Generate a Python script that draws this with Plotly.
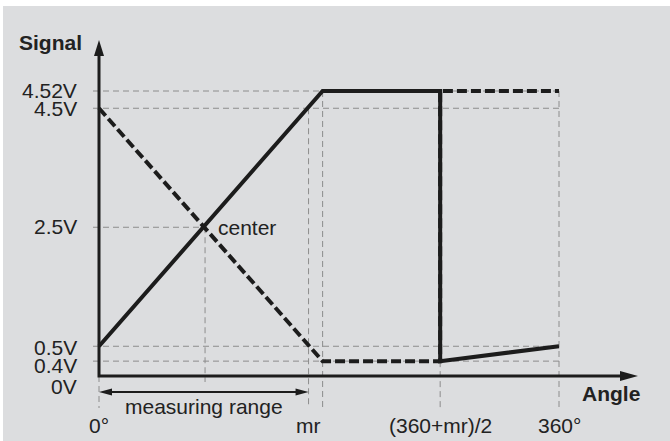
import plotly.graph_objects as go

# ---------------- data (schematic diagram) ----------------
angle_tick_labels = ["0°", "mr", "(360+mr)/2", "360°"]
angle_tick_values = [0, 164, 267, 360]          # drawn angle positions
center_angle = 83                               # where both outputs cross 2.5V
saturation_angle = 175                          # where outputs reach 4.52V / 0.4V

level_labels = ["0V", "0.4V", "0.5V", "2.5V", "4.5V", "4.52V"]
level_values = [0, 0.25, 0.5, 2.5, 4.5, 4.79]   # drawn (schematic) heights

out1_angle = [0, 175, 267, 267, 360]
out1_level = [0.5, 4.79, 4.79, 0.25, 0.5]
out2_angle = [0, 175, 267, 267, 360]
out2_level = [4.5, 0.25, 0.25, 4.79, 4.79]

# ---------------- layout helpers (pixel geometry) ----------------
W, H = 670, 441
X0, PXD = 99, 460 / 360      # pixel of 0°, pixels per degree
Y0, PXV = 376, 59.5          # pixel of 0V, pixels per volt(drawn)


def dx(px):   # pixel distance -> degrees
    return px / PXD


def dy(px):   # pixel distance -> drawn volts
    return px / PXV


def ax_x(px):  # absolute pixel -> degrees
    return (px - X0) / PXD


def ax_y(py):  # absolute pixel -> drawn volts
    return (Y0 - py) / PXV


BG = "#dcdddf"
INK = "#1c1c1c"
GUIDE = "#8c8c8c"
FONT = "Liberation Sans, Arial, sans-serif"
FS = 21

lv = dict(zip(level_labels, level_values))
mr = angle_tick_values[1]
jump = angle_tick_values[2]
full = angle_tick_values[3]

fig = go.Figure()

# thick signal lines
fig.add_trace(go.Scatter(x=out2_angle, y=out2_level, mode="lines",
                         line=dict(color=INK, width=4, dash="10px,4px"),
                         hoverinfo="skip", showlegend=False))
fig.add_trace(go.Scatter(x=out1_angle, y=out1_level, mode="lines",
                         line=dict(color=INK, width=4),
                         hoverinfo="skip", showlegend=False))

shapes = []
gl = dict(color=GUIDE, width=1, dash="6px,4px")
stub = -dx(6)
below = ax_y(408)

# horizontal guides
for name in ["0.4V", "0.5V", "4.5V", "4.52V"]:
    shapes.append(dict(type="line", xref="x", yref="y", x0=stub, x1=full,
                       y0=lv[name], y1=lv[name], line=gl, layer="below"))
shapes.append(dict(type="line", xref="x", yref="y", x0=stub, x1=center_angle,
                   y0=lv["2.5V"], y1=lv["2.5V"], line=gl, layer="below"))
# vertical guides
shapes.append(dict(type="line", xref="x", yref="y", x0=0, x1=0,
                   y0=0, y1=below, line=gl, layer="below"))
shapes.append(dict(type="line", xref="x", yref="y", x0=center_angle, x1=center_angle,
                   y0=lv["2.5V"], y1=ax_y(382), line=gl, layer="below"))
shapes.append(dict(type="line", xref="x", yref="y", x0=mr, x1=mr,
                   y0=lv["4.5V"], y1=below, line=gl, layer="below"))
shapes.append(dict(type="line", xref="x", yref="y", x0=saturation_angle, x1=saturation_angle,
                   y0=lv["4.52V"], y1=below, line=gl, layer="below"))
shapes.append(dict(type="line", xref="x", yref="y", x0=jump, x1=jump,
                   y0=lv["0.4V"], y1=below, line=gl, layer="below"))
shapes.append(dict(type="line", xref="x", yref="y", x0=full, x1=full,
                   y0=lv["4.52V"], y1=below, line=gl, layer="below"))

# axes with arrow heads
y_tip = ax_y(40)
x_tip = ax_x(638)
shapes.append(dict(type="path", xref="x", yref="y",
                   path=f"M 0,{y_tip - dy(12)} L 0,0 L {x_tip - dx(14)},0",
                   line=dict(color=INK, width=3), layer="above"))
shapes.append(dict(type="path", xref="x", yref="y",
                   path=(f"M 0,{y_tip} L {dx(5)},{y_tip - dy(16)} "
                         f"L {-dx(5)},{y_tip - dy(16)} Z"),
                   fillcolor=INK, line=dict(color=INK, width=0), layer="above"))
shapes.append(dict(type="path", xref="x", yref="y",
                   path=(f"M {x_tip},0 L {x_tip - dx(18)},{dy(5)} "
                         f"L {x_tip - dx(18)},{-dy(5)} Z"),
                   fillcolor=INK, line=dict(color=INK, width=0), layer="above"))

# measuring range double arrow
ym = ax_y(392)
shapes.append(dict(type="line", xref="x", yref="y", x0=dx(8), x1=mr - dx(8),
                   y0=ym, y1=ym, line=dict(color=INK, width=2), layer="above"))
shapes.append(dict(type="path", xref="x", yref="y",
                   path=f"M 0,{ym} L {dx(13)},{ym + dy(3.5)} L {dx(13)},{ym - dy(3.5)} Z",
                   fillcolor=INK, line=dict(color=INK, width=0), layer="above"))
shapes.append(dict(type="path", xref="x", yref="y",
                   path=f"M {mr},{ym} L {mr - dx(13)},{ym + dy(3.5)} L {mr - dx(13)},{ym - dy(3.5)} Z",
                   fillcolor=INK, line=dict(color=INK, width=0), layer="above"))

# white frame strips (top and left)
shapes.append(dict(type="rect", xref="paper", yref="paper", x0=0, x1=1,
                   y0=1 - 6 / H, y1=1, fillcolor="white", line=dict(width=0), layer="below"))
shapes.append(dict(type="rect", xref="paper", yref="paper", x0=0, x1=3 / W,
                   y0=0, y1=1, fillcolor="white", line=dict(width=0), layer="below"))

annotations = []
tf = dict(family=FONT, size=FS, color="#222222")

# y level labels (slightly stacked where levels are close)
label_shift = {"0V": -10, "0.4V": -4, "0.5V": -1, "2.5V": 1, "4.5V": 0, "4.52V": 1}
for name, val in zip(level_labels, level_values):
    annotations.append(dict(x=ax_x(79), y=val, xref="x", yref="y", text=name,
                            showarrow=False, xanchor="right", yanchor="middle",
                            yshift=label_shift[name], font=tf))
# angle labels
for name, val in zip(angle_tick_labels, angle_tick_values):
    annotations.append(dict(x=val, y=ax_y(425), xref="x", yref="y", text=name,
                            showarrow=False, xanchor="center", yanchor="middle", font=tf))

annotations.append(dict(x=mr / 2, y=ax_y(406), xref="x", yref="y", text="measuring range",
                        showarrow=False, xanchor="center", yanchor="middle", font=tf))
annotations.append(dict(x=center_angle, y=lv["2.5V"], xref="x", yref="y", text="center",
                        showarrow=False, xanchor="left", yanchor="middle", xshift=11, font=tf))
annotations.append(dict(x=ax_x(50), y=ax_y(42), xref="x", yref="y", text="<b>Signal</b>",
                        showarrow=False, xanchor="center", yanchor="middle", font=tf))
annotations.append(dict(x=ax_x(611), y=ax_y(393), xref="x", yref="y", text="<b>Angle</b>",
                        showarrow=False, xanchor="center", yanchor="middle", font=tf))

fig.update_layout(
    width=W, height=H,
    margin=dict(l=0, r=0, t=0, b=0),
    paper_bgcolor=BG, plot_bgcolor=BG,
    xaxis=dict(range=[ax_x(0), ax_x(W)], visible=False, fixedrange=True),
    yaxis=dict(range=[ax_y(H), ax_y(0)], visible=False, fixedrange=True),
    shapes=shapes, annotations=annotations,
    showlegend=False,
)

fig.write_html(
    "out.html",
    config={"displayModeBar": False, "staticPlot": True},
    post_script="document.body.style.margin='0';document.body.style.overflow='hidden';",
)
